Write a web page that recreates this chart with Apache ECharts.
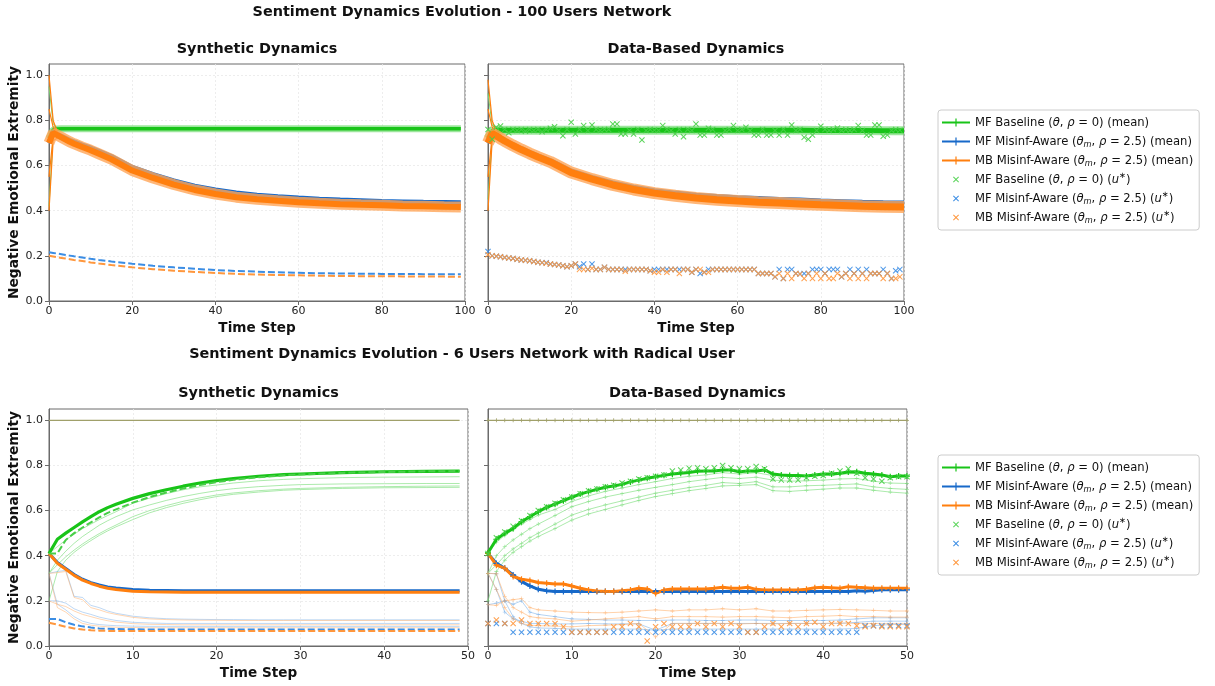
<!DOCTYPE html>
<html lang="en">
<head>
<meta charset="utf-8">
<title>Sentiment Dynamics Evolution</title>
<script src="https://cdn.jsdelivr.net/npm/echarts/dist/echarts.min.js"></script>
<style>
  html, body { margin: 0; padding: 0; background: #fff; }
  #main { width: 1215px; height: 686px; }
</style>
</head>
<body>
<div id="main"></div>
<script>
// ---------------- data ----------------
const yTicks = [0, 0.2, 0.4, 0.6, 0.8, 1.0];

// top-left: synthetic dynamics, 100 users
const tlSteps = [0,1,2,3,4,5,6,8,10,12,15,20,25,30,35,40,45,50,55,60,65,70,75,80,85,90,95,99];
const tlGreenMean = [0.72,0.758,0.762,0.763,0.763,0.763,0.763,0.763,0.763,0.763,0.763,0.763,0.763,0.763,0.763,0.763,0.763,0.763,0.763,0.763,0.763,0.763,0.763,0.763,0.763,0.763,0.763,0.763];
const tlBlueMean = [0.70,0.748,0.739,0.73,0.721,0.712,0.705,0.691,0.678,0.663,0.64,0.592,0.56,0.532,0.509,0.492,0.479,0.469,0.462,0.456,0.451,0.447,0.444,0.441,0.439,0.437,0.436,0.435];
const tlOrangeMean = [0.70,0.745,0.735,0.725,0.715,0.705,0.697,0.682,0.668,0.652,0.628,0.578,0.545,0.516,0.492,0.474,0.46,0.451,0.444,0.438,0.433,0.429,0.426,0.424,0.421,0.42,0.418,0.417];
const tlBlueStar = [0.216,0.213,0.21,0.207,0.204,0.201,0.198,0.193,0.187,0.182,0.175,0.165,0.156,0.149,0.143,0.137,0.133,0.13,0.127,0.125,0.123,0.122,0.121,0.12,0.12,0.119,0.119,0.119];
const tlOrangeStar = [0.2,0.197,0.194,0.191,0.188,0.185,0.182,0.177,0.171,0.166,0.159,0.149,0.141,0.134,0.129,0.124,0.12,0.117,0.115,0.114,0.112,0.111,0.11,0.11,0.109,0.108,0.108,0.107];
const tlSpikeSteps = [0,1,2,3];
const tlSpikeGreen = [[0.95,0.785,0.766,0.763],[0.42,0.735,0.758,0.762]];
const tlSpikeOrange = [[1.0,0.80,0.75,0.735],[0.85,0.77,0.745,0.728],[0.55,0.73,0.73,0.72],[0.40,0.71,0.722,0.715]];

// top-right: data-based dynamics, 100 users
const trSteps = [0,1,2,3,4,5,6,8,10,12,15,20,25,30,35,40,45,50,55,60,65,70,75,80,85,90,95,100];
const trGreenMean = [0.72,0.75,0.756,0.757,0.757,0.757,0.757,0.757,0.757,0.757,0.757,0.757,0.757,0.757,0.757,0.757,0.757,0.757,0.757,0.757,0.756,0.756,0.756,0.755,0.755,0.755,0.754,0.754];
const trBlueMean = [0.70,0.743,0.734,0.723,0.712,0.702,0.693,0.675,0.659,0.643,0.622,0.576,0.548,0.523,0.504,0.489,0.478,0.469,0.463,0.458,0.454,0.45,0.447,0.443,0.44,0.437,0.435,0.434];
const trOrangeMean = [0.70,0.742,0.732,0.72,0.709,0.699,0.689,0.671,0.654,0.638,0.616,0.569,0.54,0.514,0.494,0.478,0.466,0.456,0.449,0.443,0.438,0.434,0.43,0.426,0.423,0.42,0.418,0.416];
const trSpikeSteps = [0,1,2,3];
const trSpikeGreen = [[0.92,0.78,0.76,0.757],[0.45,0.72,0.752,0.757]];
const trSpikeOrange = [[0.98,0.80,0.75,0.735],[0.85,0.77,0.742,0.728],[0.55,0.73,0.728,0.72],[0.40,0.71,0.72,0.712]];
const trGreenStar = [
  0.76,0.717,0.77,0.775,0.76,0.745,0.76,0.755,0.76,0.752,
  0.76,0.755,0.76,0.75,0.76,0.765,0.772,0.755,0.732,0.76,
  0.792,0.74,0.76,0.777,0.755,0.78,0.76,0.755,0.76,0.76,
  0.784,0.784,0.74,0.74,0.755,0.74,0.76,0.713,0.755,0.76,
  0.757,0.755,0.777,0.76,0.755,0.74,0.76,0.728,0.76,0.755,
  0.784,0.735,0.735,0.765,0.76,0.735,0.735,0.755,0.76,0.777,
  0.755,0.76,0.77,0.755,0.735,0.735,0.76,0.735,0.735,0.755,
  0.735,0.76,0.735,0.78,0.755,0.76,0.725,0.717,0.735,0.755,
  0.774,0.76,0.755,0.76,0.766,0.755,0.76,0.755,0.76,0.777,
  0.755,0.735,0.735,0.78,0.78,0.73,0.735,0.755,0.76,0.757];
const trBlueStar = [
  0.219,0.2,0.198,0.196,0.193,0.19,0.188,0.185,0.182,0.18,
  0.178,0.175,0.172,0.17,0.17,0.164,0.162,0.16,0.156,0.152,
  0.156,0.164,0.152,0.164,0.14,0.164,0.14,0.14,0.149,0.14,
  0.14,0.14,0.14,0.14,0.14,0.14,0.14,0.14,0.14,0.134,
  0.14,0.14,0.14,0.14,0.14,0.14,0.14,0.14,0.14,0.127,
  0.14,0.122,0.127,0.14,0.14,0.14,0.14,0.14,0.14,0.14,
  0.14,0.14,0.14,0.14,0.14,0.122,0.122,0.122,0.122,0.107,
  0.14,0.1,0.14,0.14,0.122,0.12,0.122,0.122,0.14,0.14,
  0.14,0.122,0.14,0.14,0.14,0.107,0.122,0.14,0.122,0.14,
  0.122,0.14,0.122,0.122,0.122,0.14,0.122,0.1,0.134,0.14];
const trOrangeStar = [
  0.205,0.2,0.198,0.196,0.193,0.19,0.188,0.185,0.182,0.18,
  0.178,0.175,0.172,0.17,0.167,0.164,0.162,0.16,0.156,0.152,
  0.156,0.164,0.14,0.14,0.14,0.145,0.14,0.14,0.149,0.14,
  0.14,0.14,0.14,0.132,0.14,0.14,0.14,0.14,0.14,0.134,
  0.127,0.127,0.14,0.127,0.14,0.14,0.122,0.14,0.14,0.127,
  0.14,0.14,0.127,0.127,0.14,0.14,0.14,0.14,0.14,0.14,
  0.14,0.14,0.14,0.14,0.14,0.122,0.122,0.122,0.122,0.107,
  0.122,0.1,0.122,0.1,0.122,0.12,0.1,0.122,0.1,0.122,
  0.1,0.122,0.1,0.1,0.122,0.107,0.122,0.1,0.122,0.1,
  0.122,0.1,0.122,0.122,0.122,0.1,0.122,0.1,0.1,0.107];

// bottom-left: synthetic dynamics, 6 users with a radical user
const blSteps = [0,1,2,3,4,5,6,7,8,10,12,14,16,18,20,22,25,28,30,35,40,45,49];
const blRadicalSteps = [0,49];
const blRadical = [1.0,1.0];
const blGreenMean = [0.41,0.473,0.50,0.525,0.55,0.573,0.595,0.613,0.628,0.654,0.675,0.692,0.708,0.722,0.733,0.742,0.752,0.759,0.762,0.768,0.772,0.774,0.775];
const blGreenStar = [0.41,0.41,0.47,0.5,0.525,0.548,0.57,0.59,0.605,0.635,0.66,0.68,0.698,0.713,0.726,0.736,0.748,0.756,0.76,0.767,0.771,0.774,0.775];
const blGreenUsers = [
  [0.41,0.44,0.47,0.495,0.52,0.54,0.56,0.578,0.595,0.632,0.655,0.675,0.692,0.705,0.713,0.722,0.732,0.738,0.741,0.746,0.748,0.749,0.75],
  [0.322,0.38,0.42,0.455,0.485,0.51,0.535,0.555,0.573,0.603,0.625,0.645,0.662,0.676,0.688,0.697,0.706,0.712,0.715,0.718,0.719,0.72,0.72],
  [0.322,0.36,0.395,0.425,0.452,0.476,0.498,0.518,0.536,0.573,0.6,0.622,0.641,0.656,0.669,0.678,0.688,0.695,0.698,0.703,0.706,0.708,0.709],
  [0.2,0.33,0.38,0.415,0.443,0.467,0.49,0.51,0.528,0.56,0.59,0.613,0.632,0.648,0.662,0.672,0.682,0.69,0.693,0.698,0.701,0.702,0.703]];
const blBlueMean = [0.41,0.37,0.344,0.317,0.296,0.281,0.27,0.262,0.257,0.25,0.247,0.246,0.245,0.245,0.245,0.245,0.245,0.245,0.245,0.245,0.245,0.245,0.245];
const blOrangeMean = [0.41,0.367,0.34,0.313,0.292,0.277,0.265,0.256,0.25,0.243,0.24,0.239,0.238,0.238,0.238,0.238,0.238,0.238,0.238,0.238,0.238,0.238,0.238];
const blBlueStar = [0.12,0.12,0.105,0.094,0.087,0.082,0.078,0.076,0.075,0.074,0.073,0.073,0.073,0.073,0.073,0.073,0.073,0.073,0.073,0.073,0.073,0.073,0.073];
const blOrangeStar = [0.103,0.095,0.085,0.078,0.073,0.07,0.068,0.067,0.066,0.066,0.066,0.066,0.066,0.066,0.066,0.066,0.066,0.066,0.066,0.066,0.066,0.066,0.066];
const blBlueUsers = [
  [0.322,0.33,0.335,0.22,0.215,0.18,0.17,0.155,0.145,0.132,0.125,0.121,0.119,0.118,0.117,0.117,0.116,0.116,0.116,0.116,0.116,0.116,0.116],
  [0.2,0.2,0.19,0.165,0.15,0.14,0.128,0.12,0.113,0.105,0.102,0.1,0.1,0.1,0.1,0.1,0.1,0.1,0.1,0.1,0.1,0.1,0.1],
  [0.322,0.185,0.16,0.13,0.11,0.1,0.095,0.092,0.09,0.088,0.087,0.087,0.087,0.087,0.087,0.087,0.087,0.087,0.087,0.087,0.087,0.087,0.087]];
const blOrangeUsers = [
  [0.322,0.325,0.33,0.215,0.205,0.17,0.16,0.148,0.14,0.127,0.12,0.117,0.115,0.114,0.114,0.113,0.113,0.113,0.113,0.113,0.113,0.113,0.113],
  [0.2,0.185,0.175,0.155,0.14,0.13,0.12,0.112,0.106,0.099,0.096,0.095,0.094,0.094,0.094,0.094,0.094,0.094,0.094,0.094,0.094,0.094,0.094],
  [0.322,0.17,0.15,0.12,0.1,0.092,0.088,0.085,0.083,0.082,0.081,0.081,0.081,0.081,0.081,0.081,0.081,0.081,0.081,0.081,0.081,0.081,0.081]];

// bottom-right: data-based dynamics, 6 users with a radical user
const brSteps = [0,1,2,3,4,5,6,7,8,9,10,11,12,13,14,15,16,17,18,19,20,21,22,23,24,25,26,27,28,29,30,31,32,33,34,35,36,37,38,39,40,41,42,43,44,45,46,47,48,49,50];
const brRadical = [1,1,1,1,1,1,1,1,1,1,1,1,1,1,1,1,1,1,1,1,1,1,1,1,1,1,1,1,1,1,1,1,1,1,1,1,1,1,1,1,1,1,1,1,1,1,1,1,1,1,1];
const brGreenMean = [
  0.413,0.473,0.499,0.521,0.551,0.573,0.595,0.614,0.629,0.644,
  0.659,0.673,0.684,0.694,0.703,0.709,0.716,0.727,0.735,0.743,
  0.75,0.756,0.762,0.765,0.769,0.774,0.775,0.775,0.78,0.78,
  0.772,0.775,0.775,0.78,0.762,0.758,0.755,0.755,0.753,0.758,
  0.762,0.762,0.765,0.771,0.772,0.765,0.762,0.758,0.75,0.753,0.753];
const brGreenStar = [
  0.41,0.48,0.505,0.53,0.555,0.578,0.6,0.617,0.632,0.648,
  0.66,0.675,0.688,0.696,0.705,0.712,0.722,0.73,0.74,0.745,
  0.752,0.758,0.775,0.78,0.788,0.79,0.785,0.79,0.8,0.79,
  0.785,0.785,0.795,0.785,0.74,0.735,0.735,0.735,0.745,0.752,
  0.755,0.765,0.775,0.785,0.765,0.745,0.74,0.73,0.745,0.75,0.75];
const brBlueMean = [
  0.41,0.366,0.344,0.315,0.285,0.266,0.251,0.245,0.241,0.241,
  0.241,0.241,0.241,0.241,0.241,0.241,0.241,0.241,0.241,0.241,
  0.241,0.241,0.241,0.241,0.241,0.241,0.241,0.241,0.241,0.241,
  0.241,0.241,0.241,0.241,0.241,0.241,0.241,0.241,0.241,0.241,
  0.241,0.241,0.241,0.241,0.245,0.243,0.246,0.249,0.249,0.249,0.249];
const brOrangeMean = [
  0.41,0.358,0.344,0.308,0.296,0.29,0.281,0.278,0.275,0.275,
  0.266,0.256,0.248,0.244,0.241,0.241,0.245,0.248,0.256,0.253,
  0.233,0.248,0.253,0.253,0.253,0.253,0.253,0.256,0.26,0.256,
  0.256,0.26,0.251,0.248,0.248,0.248,0.248,0.248,0.251,0.258,
  0.26,0.258,0.256,0.263,0.26,0.258,0.256,0.256,0.256,0.256,0.256];
const brBlueStar = [
  0.1,0.1,0.1,0.061,0.061,0.061,0.061,0.061,0.061,0.061,
  0.061,0.061,0.061,0.061,0.061,0.061,0.061,0.061,0.061,0.061,
  0.061,0.061,0.061,0.061,0.061,0.061,0.061,0.061,0.061,0.061,
  0.061,0.061,0.061,0.061,0.061,0.061,0.061,0.061,0.061,0.061,
  0.061,0.061,0.061,0.061,0.061,0.09,0.09,0.09,0.09,0.09,0.09];
const brOrangeStar = [
  0.1,0.115,0.1,0.1,0.115,0.1,0.1,0.1,0.1,0.085,
  0.061,0.061,0.061,0.061,0.061,0.085,0.085,0.1,0.085,0.022,
  0.085,0.1,0.085,0.085,0.085,0.1,0.085,0.1,0.085,0.1,
  0.085,0.061,0.061,0.085,0.1,0.085,0.1,0.085,0.1,0.105,
  0.085,0.1,0.1,0.1,0.09,0.085,0.09,0.085,0.085,0.085,0.085];
const brUserSteps = [0,1,2,3,4,5,6,8,10,12,14,16,18,20,22,24,26,28,30,32,34,36,38,40,42,44,46,48,50];
const brGreenUsers = [
  [0.41,0.46,0.49,0.515,0.54,0.56,0.58,0.605,0.64,0.665,0.685,0.70,0.715,0.728,0.742,0.752,0.758,0.768,0.762,0.768,0.755,0.752,0.752,0.755,0.76,0.765,0.755,0.748,0.75],
  [0.322,0.40,0.44,0.47,0.495,0.52,0.54,0.578,0.617,0.64,0.66,0.675,0.69,0.703,0.715,0.728,0.738,0.747,0.742,0.748,0.735,0.73,0.732,0.735,0.74,0.742,0.73,0.722,0.72],
  [0.322,0.36,0.40,0.43,0.455,0.48,0.50,0.54,0.58,0.605,0.625,0.643,0.66,0.677,0.69,0.702,0.712,0.724,0.72,0.728,0.705,0.705,0.71,0.712,0.715,0.718,0.705,0.698,0.694],
  [0.2,0.33,0.38,0.415,0.44,0.465,0.485,0.52,0.558,0.585,0.605,0.625,0.645,0.662,0.675,0.688,0.698,0.709,0.712,0.715,0.688,0.685,0.69,0.695,0.7,0.7,0.69,0.682,0.677]];
const brOrangeUsers = [
  [0.183,0.18,0.2,0.205,0.21,0.17,0.16,0.155,0.15,0.148,0.147,0.15,0.155,0.16,0.155,0.16,0.16,0.165,0.16,0.165,0.155,0.155,0.158,0.16,0.162,0.16,0.158,0.155,0.155],
  [0.322,0.32,0.22,0.17,0.15,0.13,0.125,0.12,0.11,0.115,0.12,0.125,0.13,0.12,0.13,0.13,0.13,0.128,0.13,0.13,0.128,0.125,0.13,0.132,0.135,0.13,0.13,0.128,0.128],
  [0.322,0.25,0.17,0.12,0.1,0.092,0.09,0.088,0.085,0.09,0.092,0.095,0.1,0.04,0.1,0.1,0.1,0.1,0.098,0.1,0.098,0.1,0.1,0.1,0.102,0.1,0.1,0.1,0.1]];
const brBlueUsers = [
  [0.183,0.19,0.2,0.185,0.2,0.15,0.14,0.13,0.12,0.118,0.115,0.115,0.113,0.113,0.115,0.115,0.113,0.113,0.115,0.115,0.113,0.113,0.113,0.113,0.115,0.12,0.125,0.125,0.125],
  [0.322,0.25,0.15,0.12,0.11,0.1,0.1,0.098,0.098,0.1,0.098,0.098,0.098,0.07,0.1,0.1,0.1,0.1,0.1,0.1,0.1,0.1,0.1,0.1,0.1,0.105,0.11,0.11,0.11],
  [0.322,0.32,0.2,0.13,0.1,0.085,0.08,0.078,0.075,0.075,0.075,0.075,0.075,0.07,0.075,0.075,0.075,0.075,0.075,0.075,0.075,0.075,0.075,0.075,0.075,0.078,0.09,0.095,0.095]];

// ---------------- styling ----------------
const GREEN = '#18c418', BLUE = '#1769c9', ORANGE = '#ff7f0e';
const GREEN_SOFT = '#74dc74', BLUE_SOFT = '#5c9de3', ORANGE_SOFT = '#ffa557';
const GREEN_X = '#48cf48', BLUE_X = '#3b8de4', ORANGE_X = '#ff973d';
const OLIVE = '#a0a06a';
const AXIS = '#6b6b6b';
const FONT = 'DejaVu Sans';

const PLUS = 'path://M4,0H6V10H4Z M0,4H10V6H0Z';
const CROSS = 'path://M0,1.2L1.2,0L5,3.8L8.8,0L10,1.2L6.2,5L10,8.8L8.8,10L5,6.2L1.2,10L0,8.8L3.8,5Z';
const ICON_LINE = 'path://M0,0M28,10M0,4.1H28V5.9H0Z M13.4,1H14.6V9H13.4Z';
const ICON_CROSS = 'path://M0,0M28,10M11,2.7L11.7,2L14,4.3L16.3,2L17,2.7L14.7,5L17,7.3L16.3,8L14,5.7L11.7,8L11,7.3L13.3,5Z';

const N1 = 'MF Baseline (θ, ρ = 0) (mean)';
const N2 = 'MF Misinf-Aware (θm, ρ = 2.5) (mean)';
const N3 = 'MB Misinf-Aware (θm, ρ = 2.5) (mean)';
const N4 = 'MF Baseline (θ, ρ = 0) (u*)';
const N5 = 'MF Misinf-Aware (θm, ρ = 2.5) (u*)';
const N6 = 'MB Misinf-Aware (θm, ρ = 2.5) (u*)';
const legendText = {};
legendText[N1] = 'MF Baseline ({i|θ}, {i|ρ} = 0) (mean)';
legendText[N2] = 'MF Misinf-Aware ({i|θ}{sub|m}, {i|ρ} = 2.5) (mean)';
legendText[N3] = 'MB Misinf-Aware ({i|θ}{sub|m}, {i|ρ} = 2.5) (mean)';
legendText[N4] = 'MF Baseline ({i|θ}, {i|ρ} = 0) ({i|u}{sup|∗})';
legendText[N5] = 'MF Misinf-Aware ({i|θ}{sub|m}, {i|ρ} = 2.5) ({i|u}{sup|∗})';
legendText[N6] = 'MB Misinf-Aware ({i|θ}{sub|m}, {i|ρ} = 2.5) ({i|u}{sup|∗})';

function zip(xs, ys) { return xs.map((x, i) => [x, ys[i]]); }

function line(g, xs, ys, color, width, o) {
  o = o || {};
  const op = o.opacity == null ? 1 : o.opacity;
  return {
    type: 'line', name: o.name, xAxisIndex: g, yAxisIndex: g,
    data: zip(xs, ys),
    symbol: o.marker || 'none', symbolSize: o.markerSize || 5,
    showSymbol: !!o.marker, showAllSymbol: true,
    lineStyle: { color: color, width: width, opacity: op, type: o.dash || 'solid' },
    itemStyle: { color: color, opacity: op },
    z: o.z || 2, silent: true
  };
}

function crosses(g, xs, ys, color, name, z) {
  return {
    type: 'scatter', name: name, xAxisIndex: g, yAxisIndex: g,
    data: zip(xs, ys), symbol: CROSS, symbolSize: 6,
    itemStyle: { color: color, opacity: 0.9 }, z: z || 6, silent: true
  };
}

const series = [];
// --- top-left
tlSpikeGreen.forEach(v => series.push(line(0, tlSpikeSteps, v, GREEN_SOFT, 1, { z: 1 })));
series.push(line(0, tlSteps, tlGreenMean, GREEN_SOFT, 7, { opacity: 0.7 }));
series.push(line(0, tlSteps, tlGreenMean, GREEN, 3.5, { name: N1 }));
series.push(line(0, tlSteps, tlBlueMean, BLUE, 5, { name: N2, z: 3 }));
tlSpikeOrange.forEach(v => series.push(line(0, tlSpikeSteps, v, ORANGE, 1.2, { z: 4 })));
series.push(line(0, tlSteps, tlOrangeMean, ORANGE_SOFT, 11, { opacity: 0.8, z: 4 }));
series.push(line(0, tlSteps, tlOrangeMean, ORANGE, 6, { name: N3, z: 4 }));
series.push(line(0, tlSteps, tlBlueStar, BLUE_X, 2, { name: N5, dash: [7, 3], z: 5 }));
series.push(line(0, tlSteps, tlOrangeStar, ORANGE_X, 2, { name: N6, dash: [7, 3], z: 5 }));

// --- top-right
trSpikeGreen.forEach(v => series.push(line(1, trSpikeSteps, v, GREEN_SOFT, 1, { z: 1 })));
series.push(line(1, trSteps, trGreenMean, GREEN_SOFT, 9, { opacity: 0.7 }));
series.push(line(1, trSteps, trGreenMean, GREEN, 5, { name: N1 }));
series.push(line(1, trSteps, trBlueMean, BLUE, 5, { name: N2, z: 3 }));
trSpikeOrange.forEach(v => series.push(line(1, trSpikeSteps, v, ORANGE, 1.2, { z: 4 })));
series.push(line(1, trSteps, trOrangeMean, ORANGE_SOFT, 12, { opacity: 0.8, z: 4 }));
series.push(line(1, trSteps, trOrangeMean, ORANGE, 7, { name: N3, z: 4 }));
const steps100 = trGreenStar.map((_, i) => i);
series.push(crosses(1, steps100, trGreenStar, GREEN_X, N4, 5));
series.push(crosses(1, steps100, trBlueStar, BLUE_X, N5, 5));
series.push(crosses(1, steps100, trOrangeStar, ORANGE_X, N6, 5));

// --- bottom-left
series.push(line(2, blRadicalSteps, blRadical, OLIVE, 1.2, { z: 1 }));
blGreenUsers.forEach(v => series.push(line(2, blSteps, v, GREEN_SOFT, 1, { opacity: 0.6, z: 1 })));
blBlueUsers.forEach(v => series.push(line(2, blSteps, v, BLUE_SOFT, 1, { opacity: 0.4, z: 1 })));
blOrangeUsers.forEach(v => series.push(line(2, blSteps, v, ORANGE_SOFT, 1, { opacity: 0.45, z: 1 })));
series.push(line(2, blSteps, blBlueMean, BLUE, 3, { name: N2, z: 3 }));
series.push(line(2, blSteps, blOrangeMean, ORANGE, 3, { name: N3, z: 3 }));
series.push(line(2, blSteps, blGreenMean, GREEN, 3.2, { name: N1, z: 3 }));
series.push(line(2, blSteps, blGreenStar, GREEN_X, 2, { name: N4, dash: [7, 3], z: 4 }));
series.push(line(2, blSteps, blBlueStar, BLUE_X, 2, { name: N5, dash: [7, 3], z: 4 }));
series.push(line(2, blSteps, blOrangeStar, ORANGE_X, 2, { name: N6, dash: [7, 3], z: 4 }));

// --- bottom-right
series.push(line(3, brSteps, brRadical, OLIVE, 1.2, { marker: PLUS, markerSize: 4, z: 1 }));
brGreenUsers.forEach(v => series.push(line(3, brUserSteps, v, GREEN_SOFT, 1, { opacity: 0.6, marker: PLUS, markerSize: 4, z: 1 })));
brBlueUsers.forEach(v => series.push(line(3, brUserSteps, v, BLUE_SOFT, 1, { opacity: 0.45, marker: PLUS, markerSize: 4, z: 1 })));
brOrangeUsers.forEach(v => series.push(line(3, brUserSteps, v, ORANGE_SOFT, 1, { opacity: 0.5, marker: PLUS, markerSize: 4, z: 1 })));
series.push(line(3, brSteps, brBlueMean, BLUE, 3, { name: N2, marker: PLUS, markerSize: 6, z: 3 }));
series.push(line(3, brSteps, brOrangeMean, ORANGE, 3, { name: N3, marker: PLUS, markerSize: 6, z: 3 }));
series.push(line(3, brSteps, brGreenMean, GREEN, 3, { name: N1, marker: PLUS, markerSize: 6, z: 3 }));
series.push(crosses(3, brSteps, brGreenStar, GREEN_X, N4, 5));
series.push(crosses(3, brSteps, brBlueStar, BLUE_X, N5, 5));
series.push(crosses(3, brSteps, brOrangeStar, ORANGE_X, N6, 5));

// ---------------- layout ----------------
const grids = [
  { left: 49, top: 64, width: 416, height: 237 },
  { left: 488, top: 64, width: 416, height: 237 },
  { left: 49, top: 409, width: 419, height: 237 },
  { left: 488, top: 409, width: 419, height: 237 }
].map(g => Object.assign(g, { show: true, borderColor: AXIS, borderWidth: 1, outerBoundsMode: 'none' }));

const splitLine = { show: true, lineStyle: { color: '#e9e9e9', width: 0.8, type: [2, 2] } };

function xAxisFor(g, max, step) {
  return {
    type: 'value', gridIndex: g, min: 0, max: max, interval: step,
    name: 'Time Step', nameLocation: 'middle', nameGap: 20,
    nameTextStyle: { fontSize: 13.6, fontWeight: 'bold', color: '#111', fontFamily: FONT },
    axisLine: { show: true, lineStyle: { color: AXIS, width: 1 } },
    axisTick: { show: true, length: 4, lineStyle: { color: AXIS } },
    axisLabel: { fontSize: 11, color: '#222', margin: 5, fontFamily: FONT },
    splitLine: splitLine
  };
}
function yAxisFor(g, labelled) {
  return {
    type: 'value', gridIndex: g, min: 0, max: 1.05, interval: 0.2,
    name: labelled ? 'Negative Emotional Extremity' : '',
    nameLocation: 'middle', nameGap: 26, nameRotate: 90,
    nameTextStyle: { fontSize: 13.8, fontWeight: 'bold', color: '#111', fontFamily: FONT },
    axisLine: { show: true, lineStyle: { color: AXIS, width: 1 } },
    axisTick: { show: true, length: 4, lineStyle: { color: AXIS }, customValues: yTicks },
    axisLabel: { show: labelled, fontSize: 11, color: '#222', margin: 6, fontFamily: FONT,
                 customValues: yTicks, formatter: v => v.toFixed(1) },
    splitLine: splitLine
  };
}

const titleStyle = { fontSize: 14.4, fontWeight: 'bold', color: '#111', fontFamily: FONT };
function title(text, x, y) {
  return { text: text, left: x, top: y, textAlign: 'center', padding: 0, textStyle: titleStyle };
}

const legendItems = [
  { name: N1, icon: ICON_LINE, itemStyle: { color: GREEN } },
  { name: N2, icon: ICON_LINE, itemStyle: { color: BLUE } },
  { name: N3, icon: ICON_LINE, itemStyle: { color: ORANGE } },
  { name: N4, icon: ICON_CROSS, itemStyle: { color: GREEN_X } },
  { name: N5, icon: ICON_CROSS, itemStyle: { color: BLUE_X } },
  { name: N6, icon: ICON_CROSS, itemStyle: { color: ORANGE_X } }
];
function legendAt(top) {
  return {
    orient: 'vertical', left: 938, top: top, data: legendItems,
    itemWidth: 28, itemHeight: 10, itemGap: 4, selectedMode: false,
    padding: [5, 6, 5, 4], borderColor: '#cccccc', borderWidth: 1, borderRadius: 3,
    backgroundColor: '#fff', itemStyle: { borderWidth: 0 },
    formatter: n => legendText[n] || n,
    textStyle: {
      fontSize: 11.6, color: '#111', fontFamily: FONT, lineHeight: 15,
      rich: {
        i: { fontStyle: 'italic', fontSize: 11.6, fontFamily: FONT },
        sub: { fontStyle: 'italic', fontSize: 8.2, fontFamily: FONT, verticalAlign: 'bottom' },
        sup: { fontSize: 8.2, fontFamily: FONT, verticalAlign: 'top' }
      }
    }
  };
}

const option = {
  animation: false,
  backgroundColor: '#fff',
  textStyle: { fontFamily: FONT },
  title: [
    title('Sentiment Dynamics Evolution - 100 Users Network', 462, 5),
    title('Synthetic Dynamics', 257, 42),
    title('Data-Based Dynamics', 696, 42),
    title('Sentiment Dynamics Evolution - 6 Users Network with Radical User', 462, 347.5),
    title('Synthetic Dynamics', 258.5, 386),
    title('Data-Based Dynamics', 697.5, 386)
  ],
  legend: [legendAt(110), legendAt(455)],
  grid: grids,
  xAxis: [xAxisFor(0, 100, 20), xAxisFor(1, 100, 20), xAxisFor(2, 50, 10), xAxisFor(3, 50, 10)],
  yAxis: [yAxisFor(0, true), yAxisFor(1, false), yAxisFor(2, true), yAxisFor(3, false)],
  series: series
};

const chart = echarts.init(document.getElementById('main'), null, { renderer: 'canvas' });
chart.setOption(option);
</script>
</body>
</html>
